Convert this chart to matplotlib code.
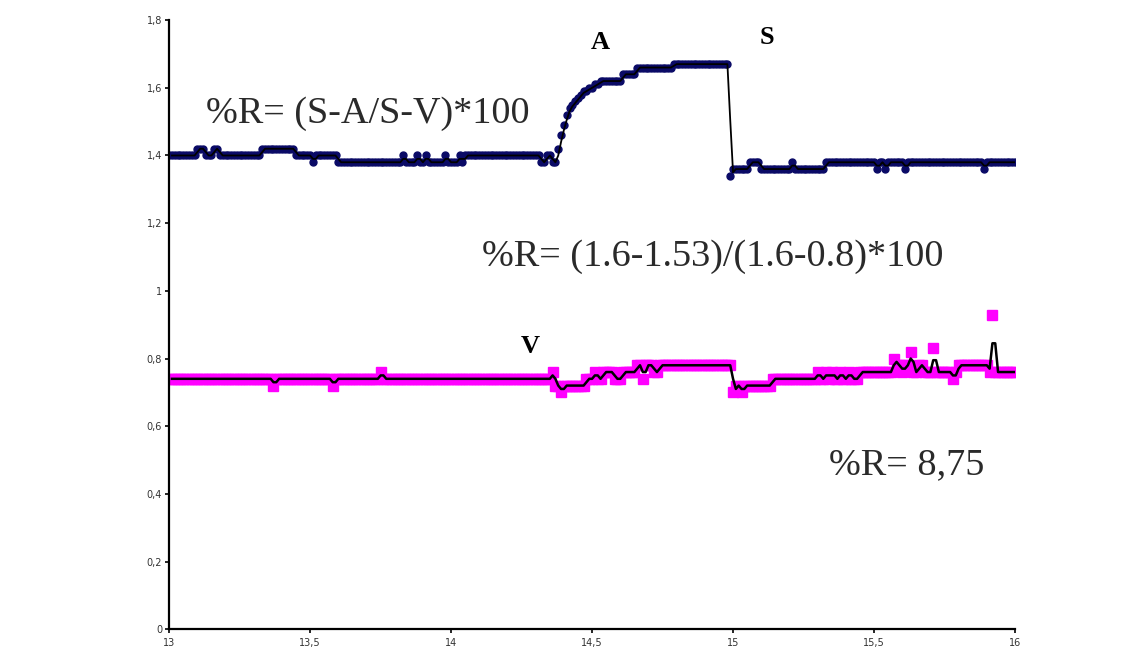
import numpy as np
import pandas as pd
import matplotlib
matplotlib.use("Agg")
import matplotlib.pyplot as plt
from matplotlib.ticker import FuncFormatter

# upper series (blue dots), sampled every 0.01 from 13.00 to 16.00
blue = ([1.40] * 10 + [1.42] * 3 + [1.40] * 3 + [1.42] * 2 + [1.40] * 15
        + [1.42] * 12 + [1.40] * 6 + [1.38] + [1.40] * 8 + [1.38] * 23
        + [1.40] + [1.38] * 4 + [1.40] + [1.38] * 2 + [1.40] + [1.38] * 6
        + [1.40] + [1.38] * 4 + [1.40] + [1.38] + [1.40] * 27
        + [1.38, 1.38, 1.40, 1.40, 1.38, 1.38, 1.42, 1.46, 1.49, 1.52, 1.54,
           1.55, 1.56, 1.57, 1.58, 1.59, 1.59, 1.60, 1.60, 1.61, 1.61]
        + [1.62] * 8 + [1.64] * 5 + [1.66] * 13 + [1.67] * 20
        + [1.34] + [1.36] * 6 + [1.38] * 4 + [1.36] * 11 + [1.38] + [1.36] * 11
        + [1.38] * 18 + [1.36] + [1.38] * 2 + [1.36] + [1.38] * 6 + [1.36]
        + [1.38] * 27 + [1.36] + [1.38] * 11)

# lower series (magenta squares)
pink = ([0.74] * 37 + [0.72] + [0.74] * 20 + [0.72] + [0.74] * 16 + [0.76]
        + [0.74] * 60 + [0.76, 0.72, 0.72, 0.70] + [0.72] * 8
        + [0.74] * 3 + [0.76] + [0.74] * 2 + [0.76] * 4 + [0.74] * 3
        + [0.76] * 5 + [0.78] * 2 + [0.74] + [0.78] * 3 + [0.76] * 2
        + [0.78] * 26 + [0.70, 0.72, 0.72, 0.70] + [0.72] * 10 + [0.74] * 16
        + [0.76, 0.74, 0.74, 0.76, 0.74, 0.76, 0.74, 0.74, 0.76, 0.74, 0.74,
           0.76, 0.74, 0.74, 0.74]
        + [0.76] * 12
        + [0.80, 0.78, 0.78, 0.76, 0.78, 0.78, 0.82, 0.76, 0.76, 0.78, 0.78,
           0.76, 0.76, 0.76, 0.83]
        + [0.76] * 6 + [0.74] + [0.76] + [0.78] * 11 + [0.76] + [0.93]
        + [0.76] * 8)

t = np.round(13 + 0.01 * np.arange(len(blue)), 2)

xticks = [13, 13.5, 14, 14.5, 15, 15.5, 16]
yticks = [0, 0.2, 0.4, 0.6, 0.8, 1, 1.2, 1.4, 1.6, 1.8]

# moving average trendlines (period 2)
blue_ma = pd.Series(blue).rolling(2).mean()
pink_ma = pd.Series(pink).rolling(2).mean()

fig = plt.figure(figsize=(11.43, 6.5), dpi=100)
ax = fig.add_axes([0.148, 0.032, 0.74, 0.937])

ax.plot(t, blue, 'o', color='#0a0a66', markersize=5, zorder=2)
ax.plot(t, blue_ma, '-', color='black', linewidth=1.3, zorder=3)
ax.plot(t, pink, 's', color='#ff00ff', markersize=6.5, zorder=2)
ax.plot(t, pink_ma, '-', color='black', linewidth=1.8, zorder=3)

ax.set_xlim(13, 16)
ax.set_ylim(0, 1.8)
ax.set_xticks(xticks)
ax.set_yticks(yticks)
comma = FuncFormatter(lambda v, p: ('%g' % v).replace('.', ','))
ax.xaxis.set_major_formatter(comma)
ax.yaxis.set_major_formatter(comma)
ax.tick_params(axis='both', labelsize=7, length=3, width=1.2, direction='out',
               colors='black', labelcolor='#333333')
ax.tick_params(axis='y', pad=2)
ax.tick_params(axis='x', pad=3)
for s in ['top', 'right']:
    ax.spines[s].set_visible(False)
for s in ['left', 'bottom']:
    ax.spines[s].set_linewidth(1.6)

serif = 'Liberation Serif'
ax.text(14.53, 1.735, 'A', fontsize=19, fontweight='bold', family=serif,
        ha='center', va='center')
ax.text(15.12, 1.75, 'S', fontsize=19, fontweight='bold', family=serif,
        ha='center', va='center')
ax.text(14.28, 0.835, 'V', fontsize=19, fontweight='bold', family=serif,
        ha='center', va='center')
ax.text(13.13, 1.525, '%R= (S-A/S-V)*100', fontsize=27.5, family=serif,
        ha='left', va='center', color='#2a2a2a')
ax.text(14.11, 1.1, '%R= (1.6-1.53)/(1.6-0.8)*100', fontsize=27.5,
        family=serif, ha='left', va='center', color='#2a2a2a')
ax.text(15.34, 0.485, '%R= 8,75', fontsize=27.5, family=serif,
        ha='left', va='center', color='#2a2a2a')

fig.savefig('out.png', dpi=100)
